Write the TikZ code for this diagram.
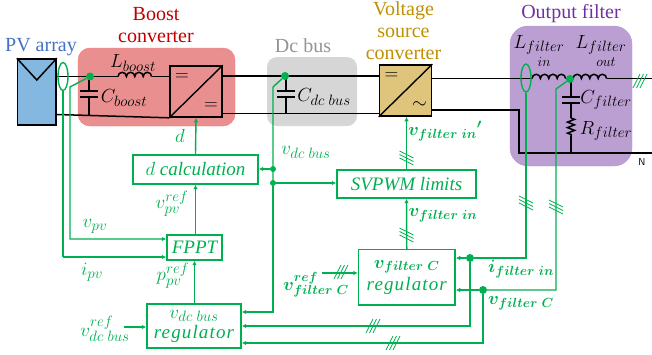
\documentclass[tikz,border=0pt]{standalone}
\usepackage{fix-cm}
\usepackage{fontspec}
\setmainfont{Liberation Serif}
\usetikzlibrary{arrows.meta,shapes.geometric,decorations.pathmorphing}
\DeclareMathSizes{19}{19}{15}{12}
\DeclareMathSizes{18}{18}{13.2}{11}
\definecolor{ctrlgreen}{HTML}{00B050}
\definecolor{titleblue}{HTML}{4472C4}
\definecolor{titlered}{HTML}{C00000}
\definecolor{titlegold}{HTML}{BF9000}
\definecolor{titlepurple}{HTML}{7030A0}
\definecolor{pvblue}{HTML}{85B8E0}
\definecolor{vscgold}{HTML}{DFC57B}
\definecolor{boostred}{HTML}{E98F8F}
\definecolor{filterpurple}{HTML}{BB9FD2}
\newcommand{\bmath}[1]{{\fontsize{18}{18}\selectfont\boldmath$#1$}}
\newcommand{\regtext}{{\itshape\addfontfeature{LetterSpace=6}regulator}}
\tikzset{
    power/.style={black,line width=1.5pt},
    ctrl/.style={ctrlgreen,line width=1.4pt},
    arr/.style={ctrl,-{Latex[length=4.5pt,width=4.5pt]}},
    ctrlbox/.style={draw=ctrlgreen,line width=1.4pt,text=ctrlgreen,inner sep=0pt,align=center,font=\fontsize{19}{19}\selectfont},
    conv/.style={draw=black,line width=1.6pt,inner sep=0pt,minimum width=52pt,minimum height=51pt},
    dot/.style={circle,fill=ctrlgreen,inner sep=0pt,minimum size=8pt},
    title/.style={align=center,font=\fontsize{20}{22}\selectfont},
    elem/.style={black,font=\fontsize{19}{19}\selectfont},
    sig/.style={ctrlgreen,font=\fontsize{19}{19}\selectfont},
    sensor/.style={ellipse,draw=ctrlgreen,line width=1.4pt,minimum width=10pt,minimum height=28pt,inner sep=0pt},
    bumps/.pic={\draw[power] (0,0) \foreach \i in {1,...,4}{arc (180:360:4.2)};},
    slashes/.pic={\foreach \s in {-3.5,0,3.5} \draw[ctrlgreen,line width=0.7pt] (\s-3.5,7)--(\s+3.5,-7);},
    hslashes/.pic={\foreach \s in {-3.5,0,3.5} \draw[ctrlgreen,line width=0.7pt] (-7,\s-3.5)--(7,\s+3.5);}
}
\begin{document}
\begin{tikzpicture}[x=1pt,y=-1pt]
    \useasboundingbox (0,0) rectangle (652,354);
    \draw[fill=boostred,draw=red!55!white,rounded corners=12pt] (78,48) rectangle (235,126);
    \fill[fill=black!16,rounded corners=10pt] (267,57) rectangle (357,126);
    \draw[fill=filterpurple,draw=titlepurple!50!white,rounded corners=18pt] (510,26) rectangle (632,166);

    \node[draw=black,line width=1.5pt,fill=pvblue,minimum width=38.5pt,minimum height=66pt,inner sep=0pt] (pv) at (36.8,92) {};
    \draw[line width=1.5pt] (pv.north west) -- (36.8,80) -- (pv.north east);
    \node[conv] (boost) at (196,91.5) {};
    \node[conv,fill=vscgold] (vsc) at (405.5,90.5) {};
    \draw[line width=1.4pt] (boost.south west) -- (boost.north east);
    \draw[line width=1.4pt] (vsc.south west) -- (vsc.north east);
    \node[font=\fontsize{19}{19}\selectfont] (eqa) at (182,77.5) {$=$};
    \node[font=\fontsize{19}{19}\selectfont] (eqb) at (211,106.5) {$=$};
    \node[font=\fontsize{19}{19}\selectfont] (eqc) at (391.5,76.5) {$=$};
    \node[font=\fontsize{19}{19}\selectfont] (acc) at (419.5,105.5) {$\sim$};

    \node[title,text=titleblue] (pvtitle) at (41,47) {PV array};
    \node[title,text=titlered] (boosttitle) at (156,25) {Boost\\converter};
    \node[title,text=black!42] (dctitle) at (303,46) {Dc bus};
    \node[title,text=titlegold] (vsctitle) at (403.5,31) {Voltage\\source\\converter};
    \node[title,text=titlepurple] (filttitle) at (571,14) {Output filter};

    \coordinate (lbin) at (118,76.5);
    \coordinate (lbout) at (151.6,76.5);
    \coordinate (lfin) at (532,78.5);
    \coordinate (lfmid) at (565.6,78.5);
    \coordinate (lfoutin) at (573,78.5);
    \coordinate (lfout) at (606.6,78.5);
    \draw[power] (pv.east |- lbin) -- (lbin);
    \pic at (lbin) {bumps};
    \draw[power] (lbout) -- (boost.west |- lbout);
    \draw[power] (pv.east |- 0,114.5) -- (boost.south west);
    \draw[power] (boost.east |- 0,76) -- (vsc.west |- 0,76);
    \draw[power] (boost.east |- 0,113.5) -- (vsc.west |- 0,113.5);
    \draw[power] (vsc.east |- lfin) -- (lfin);
    \pic at (lfin) {bumps};
    \draw[power] (lfmid) -- (lfoutin);
    \pic at (lfoutin) {bumps};
    \draw[power] (lfout) -- (652,78.5);
    \draw[power] (vsc.east |- 0,110) -| (519,153) -- (652,153);
    \pic at (640,81) {slashes};

    \draw[power] (89,76.5) -- (89,91) (89,97) -- (89,114.5);
    \draw[power] (80,91) -- (98,91) (80,97) -- (98,97);
    \draw[power] (286,76) -- (286,91) (286,97) -- (286,113.5);
    \draw[power] (277,91) -- (295,91) (277,97) -- (295,97);
    \draw[power] (571,78.5) -- (571,97) (571,103) -- (571,116);
    \draw[power] (562,97) -- (580,97) (562,103) -- (580,103);
    \draw[power,decorate,decoration={zigzag,amplitude=3.5pt,segment length=5.5pt}] (571,118) -- (571,136);
    \draw[power] (571,116) -- (571,118) (571,136) -- (571,153);
    \node[elem] (lboost) at (133,63) {$L_{boost}$};
    \node[elem] (cboost) at (124,98) {$C_{boost}$};
    \node[elem] (cdc) at (324,97) {$C_{dc\;bus}$};
    \node[elem] (lfa) at (539,45) {$L_{filter}$};
    \node[elem,font=\fontsize{14}{14}\selectfont] (lfain) at (544,62) {$in$};
    \node[elem] (lfb) at (601,45) {$L_{filter}$};
    \node[elem,font=\fontsize{14}{14}\selectfont] (lfbout) at (606,62) {$out$};
    \node[elem] (cfilt) at (606,100) {$C_{filter}$};
    \node[elem] (rfilt) at (606,131) {$R_{filter}$};
    \node[font=\sffamily\fontsize{10}{10}\selectfont] (neutral) at (642,162) {N};

    \node[ctrlbox,minimum width=125pt,minimum height=29pt] (dcalc) at (195.5,169.5) {$d$ \itshape calculation};
    \node[ctrlbox,minimum width=139pt,minimum height=28pt] (svpwm) at (406.5,184) {\itshape SVPWM limits};
    \node[ctrlbox,minimum width=55pt,minimum height=25pt] (fppt) at (194.5,247.5) {\itshape FPPT};
    \node[ctrlbox,minimum width=94pt,minimum height=44pt] (dcreg) at (194,326) {$v_{dc\;bus}$\\[1pt]\regtext};
    \node[ctrlbox,minimum width=96.5pt,minimum height=55.5pt] (filtreg) at (406.8,277.2) {\bmath{v_{filter\;C}}\\[3pt]\regtext};

    \node[sensor] (senspv) at (63,76.5) {};
    \node[sensor] (sensf) at (526,78) {};
    \node[dot] (nodepv) at (90,76.5) {};
    \node[dot] (nodedc) at (285,76) {};
    \node[dot] (nodef) at (570,79) {};
    \node[dot,minimum size=6pt] (jd) at (273,169) {};
    \node[dot,minimum size=6pt] (js) at (273,183) {};
    \node[dot] (ji) at (470,258) {};
    \node[dot] (jv) at (483,290) {};

    \draw[ctrl] (senspv.south) |- (63,257) coordinate (ipv);
    \draw[arr] (ipv) -- (fppt.west |- ipv);
    \draw[arr] (nodepv) -- (70,87) |- (fppt.west |- 0,239);
    \draw[ctrl] (nodedc) -- (273,87) -- (js);
    \draw[arr] (js) |- (dcreg.east |- 0,312);
    \draw[arr] (jd) -- (dcalc.east |- jd);
    \draw[arr] (js) -- (svpwm.west |- js);
    \draw[arr] (dcalc.north) -- (boost.south);
    \draw[arr] (fppt.north -| dcalc.north) -- (dcalc.south);
    \draw[arr] (dcreg.north -| fppt.north) -- (fppt.south);
    \draw[arr] (svpwm.north) -- (vsc.south -| svpwm.north);
    \draw[arr] (filtreg.north) -- (svpwm.south);
    \coordinate (dcrefin) at (124,327);
    \draw[arr] (dcrefin) -- (dcreg.west |- dcrefin);
    \coordinate (filtrefin) at (322,273);
    \draw[arr] (filtrefin) -- (filtreg.west |- filtrefin);
    \draw[ctrl] (sensf.south) |- (ji);
    \draw[arr] (ji) -- (filtreg.east |- ji);
    \draw[ctrl] (nodef) -- (556,89) |- (jv);
    \draw[arr] (jv) -- (filtreg.east |- jv);
    \draw[arr] (ji) |- (dcreg.east |- 0,326);
    \draw[arr] (jv) |- (dcreg.east |- 0,343);

    \pic at (406.5,158) {hslashes};
    \pic at (406.5,235) {hslashes};
    \pic at (526,203) {hslashes};
    \pic at (556,207) {hslashes};
    \pic at (341,272) {slashes};
    \pic at (373,326) {slashes};
    \pic at (393,343) {slashes};

    \node[sig] (ld) at (180,136) {$d$};
    \node[sig] (lvdc) at (306,152) {$v_{dc\;bus}$};
    \node[sig] (lvpvref) at (172,204) {$v_{pv}^{ref}$};
    \node[sig] (lppvref) at (173,276) {$p_{pv}^{ref}$};
    \node[sig] (lvpv) at (95,226) {$v_{pv}$};
    \node[sig] (lipv) at (92,272) {$i_{pv}$};
    \node[sig] (lvdcref) at (105,329) {$v_{dc\;bus}^{ref}$};
    \node[sig] (lvfref) at (316,285) {\bmath{v_{filter\;C}^{ref}}};
    \node[sig] (lvfinp) at (445,131) {\bmath{v_{filter\;in}{}'}};
    \node[sig] (lvfin) at (443,215) {\bmath{v_{filter\;in}}};
    \node[sig] (lifin) at (521,269) {\bmath{i_{filter\;in}}};
    \node[sig] (lvfc) at (521,303) {\bmath{v_{filter\;C}}};
\end{tikzpicture}
\end{document}
